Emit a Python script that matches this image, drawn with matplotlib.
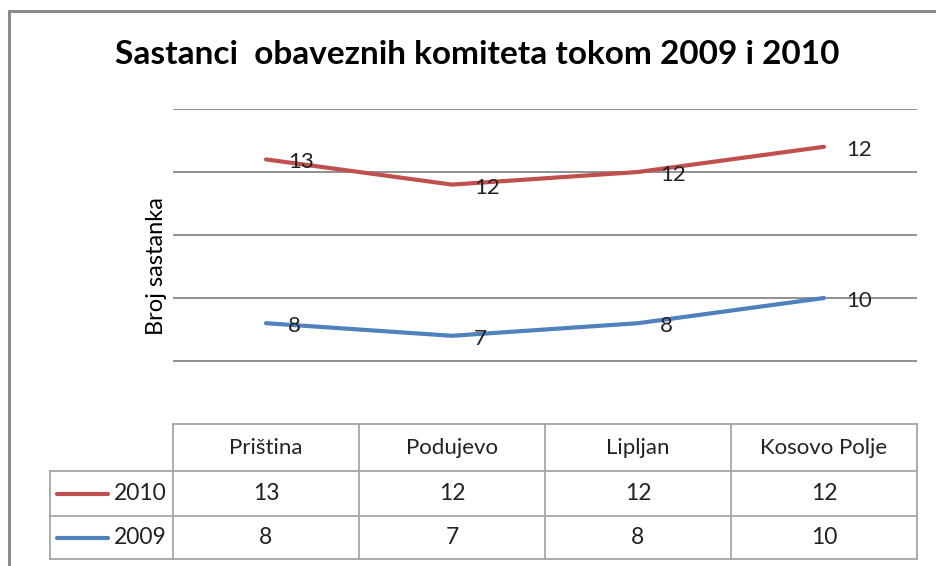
import matplotlib

matplotlib.use("Agg")
import matplotlib.pyplot as plt
import numpy as np
from matplotlib.patches import Rectangle
from matplotlib.transforms import blended_transform_factory

plt.rcParams["font.family"] = ["Lato", "DejaVu Sans"]

# Data (Excel-style stacked line chart with a data table underneath)
municipalities = ["Priština", "Podujevo", "Lipljan", "Kosovo Polje"]
meetings_2009 = [8, 7, 8, 10]
meetings_2010 = [13, 12, 12, 12]
series_names = ["2010", "2009"]

RED = "#c0504d"
BLUE = "#4f81bd"
GRID = "#8f8f8f"
TABLE = "#a6a6a6"
TXT = "#222222"

W, H = 937, 566
fig = plt.figure(figsize=(W / 100, H / 100), dpi=100)


def fy(py):
    return 1 - py / H


# outer chart frame (only top/left edges fall inside the picture)
fig.add_artist(Rectangle((9 / W, -0.1), 1.2, fy(11) + 0.1, transform=fig.transFigure,
                         fill=False, edgecolor="#8a8a8a", linewidth=2.2))

ax = fig.add_axes([173 / W, fy(424), (917 - 173) / W, (424 - 109) / H])
x = np.arange(len(municipalities))
y2009 = np.array(meetings_2009)
y2010 = y2009 + np.array(meetings_2010)  # stacked

ax.plot(x, y2010, color=RED, linewidth=3, solid_capstyle="round", zorder=3)
ax.plot(x, y2009, color=BLUE, linewidth=3, solid_capstyle="round", zorder=3)
for xs, vals in [(y2010, meetings_2010), (y2009, meetings_2009)]:
    for xi, yi, v in zip(x, xs, vals):
        ax.annotate(str(v), (xi, yi), xytext=(22, -3), textcoords="offset pixels",
                    ha="left", va="center", fontsize=16, color=TXT, zorder=4)

ax.set_xlim(-0.5, len(municipalities) - 0.5)
ax.set_ylim(0, 25)
ax.set_yticks(np.arange(5, 26, 5))
ax.set_xticks([])
ax.tick_params(axis="y", length=0, labelleft=False)
ax.grid(axis="y", color=GRID, linewidth=1.4)
for s in ax.spines.values():
    s.set_visible(False)
ax.set_ylabel("Broj sastanka", fontsize=17, labelpad=4)

fig.text(477 / W, fy(55), "Sastanci  obaveznih komiteta tokom 2009 i 2010",
         ha="center", va="center", fontsize=24, fontweight="bold")

# data table
tr = blended_transform_factory(ax.transData, fig.transFigure)
n = len(municipalities)
unit = (917 - 173) / n  # pixels per category
leg_left = -0.5 - (173 - 50) / unit
rows = [fy(424), fy(471), fy(516), fy(559)]
lw = 1.3


def hline(x0, x1, yv):
    fig.add_artist(plt.Line2D([x0, x1], [yv, yv], transform=tr, color=TABLE, linewidth=lw))


def vline(xv, y0, y1):
    fig.add_artist(plt.Line2D([xv, xv], [y0, y1], transform=tr, color=TABLE, linewidth=lw))


hline(-0.5, n - 0.5, rows[0])
for r in rows[1:]:
    hline(leg_left, n - 0.5, r)
vline(leg_left, rows[1], rows[3])
for i in range(n + 1):
    vline(i - 0.5, rows[0], rows[3])

for i, name in enumerate(municipalities):
    fig.text(i, (rows[0] + rows[1]) / 2, name, transform=tr, ha="center", va="center",
             fontsize=16, color=TXT)
for r, (label, vals, col) in enumerate(zip(series_names, [meetings_2010, meetings_2009], [RED, BLUE])):
    yc = (rows[r + 1] + rows[r + 2]) / 2
    for i, v in enumerate(vals):
        fig.text(i, yc, str(v), transform=tr, ha="center", va="center",
                 fontsize=16.5, color=TXT)
    fig.add_artist(plt.Line2D([leg_left + 7 / unit, leg_left + 58 / unit], [yc, yc], transform=tr,
                              color=col, linewidth=3, solid_capstyle="round"))
    fig.text(-0.5 - 6 / unit, yc, label, transform=tr, ha="right", va="center",
             fontsize=16.5, color=TXT)

fig.savefig("out.png", dpi=100, facecolor="white")
